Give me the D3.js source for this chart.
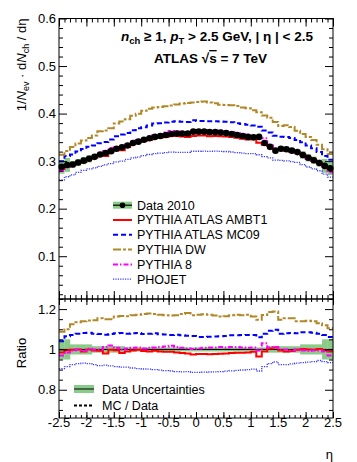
<!DOCTYPE html>
<html>
<head>
<meta charset="utf-8">
<script src="https://cdn.jsdelivr.net/npm/d3@7"></script>
<style>
	body { margin: 0; background: #fff; }
	svg text { font-family: "Liberation Sans", Arial, Helvetica, sans-serif; fill: #000; }
</style>
</head>
<body>
<svg id="chart" width="357" height="462"></svg>
<script>

// eta bin centres (bin width 0.1)
var etaBins = [-2.45,-2.35,-2.25,-2.15,-2.05,-1.95,-1.85,-1.75,-1.65,-1.55,
               -1.45,-1.35,-1.25,-1.15,-1.05,-0.95,-0.85,-0.75,-0.65,-0.55,
               -0.45,-0.35,-0.25,-0.15,-0.05, 0.05, 0.15, 0.25, 0.35, 0.45,
                0.55, 0.65, 0.75, 0.85, 0.95, 1.05, 1.15, 1.25, 1.35, 1.45,
                1.55, 1.65, 1.75, 1.85, 1.95, 2.05, 2.15, 2.25, 2.35, 2.45];

var data2010 = [0.288,0.292,0.293,0.297,0.301,0.305,0.309,0.314,0.317,0.321,
                0.326,0.329,0.333,0.338,0.341,0.345,0.348,0.351,0.353,0.355,
                0.357,0.358,0.358,0.358,0.362,0.362,0.362,0.361,0.361,0.360,
                0.359,0.357,0.355,0.353,0.351,0.350,0.351,0.338,0.330,0.322,
                0.326,0.325,0.322,0.319,0.313,0.307,0.302,0.296,0.290,0.285];

// relative data uncertainty (green band)
var dataUnc = [0.05,0.05,0.025,0.025,0.025,0.025,0.016,0.016,0.016,0.016,
               0.016,0.016,0.01,0.01,0.01,0.01,0.01,0.01,0.01,0.01,
               0.01,0.01,0.01,0.01,0.01,0.01,0.01,0.01,0.01,0.01,
               0.01,0.01,0.01,0.01,0.01,0.01,0.01,0.01,0.016,0.016,
               0.016,0.016,0.016,0.016,0.025,0.025,0.025,0.025,0.05,0.05];

// MC / Data
var ratioAMBT1 = [0.985,0.996,0.998,1.000,0.990,1.000,0.995,0.993,0.980,0.998,
                  0.996,0.982,0.990,0.995,0.998,0.992,0.990,0.993,0.990,0.988,
                  0.988,0.985,0.982,0.980,0.975,0.977,0.977,0.976,0.977,0.978,
                  0.980,0.982,0.983,0.983,0.985,0.988,0.965,0.990,1.005,1.010,
                  0.995,0.990,0.992,0.998,1.002,1.000,0.998,1.002,0.995,0.990];

var ratioMC09 = [1.040,1.065,1.072,1.078,1.082,1.083,1.078,1.076,1.073,1.076,
                 1.080,1.082,1.078,1.080,1.082,1.076,1.078,1.080,1.075,1.074,
                 1.072,1.073,1.070,1.068,1.066,1.062,1.062,1.063,1.064,1.065,
                 1.067,1.070,1.070,1.071,1.072,1.071,1.060,1.078,1.092,1.098,
                 1.078,1.080,1.082,1.080,1.085,1.085,1.083,1.078,1.072,1.062];

var ratioDW = [1.088,1.100,1.125,1.135,1.140,1.143,1.145,1.155,1.150,1.150,
               1.163,1.166,1.165,1.170,1.172,1.176,1.178,1.176,1.172,1.170,
               1.168,1.170,1.176,1.180,1.170,1.172,1.175,1.172,1.168,1.163,
               1.165,1.170,1.172,1.170,1.172,1.163,1.147,1.171,1.185,1.188,
               1.147,1.155,1.155,1.140,1.140,1.142,1.140,1.130,1.120,1.105];

var ratioPY8 = [0.970,0.985,0.995,1.000,0.993,1.003,1.000,1.000,1.012,1.020,
                1.008,0.998,1.005,1.008,1.010,1.005,1.008,1.010,1.012,1.015,
                1.018,1.012,1.008,1.005,1.002,1.005,1.008,1.010,1.010,1.012,
                1.010,1.012,1.012,1.010,1.008,1.010,0.995,1.030,1.010,1.012,
                1.000,1.000,0.995,1.000,0.995,0.992,0.995,0.995,0.990,0.970];

var ratioPHOJET = [0.905,0.915,0.925,0.930,0.932,0.930,0.925,0.920,0.922,0.918,
                   0.915,0.912,0.912,0.908,0.905,0.903,0.902,0.900,0.897,0.895,
                   0.893,0.890,0.889,0.890,0.886,0.886,0.887,0.888,0.889,0.890,
                   0.892,0.894,0.896,0.898,0.900,0.902,0.893,0.915,0.930,0.938,
                   0.925,0.925,0.928,0.932,0.935,0.937,0.940,0.945,0.940,0.935];

var xTicks      = [-2.5,-2,-1.5,-1,-0.5,0,0.5,1,1.5,2,2.5];
var yTicksTop   = [0.1,0.2,0.3,0.4,0.5,0.6];
var yTicksRatio = [0.8,1,1.2];

var binW  = 0.1;
var green = '#8acb8a';

// style per MC sample
var samples = [
	{ name: 'PYTHIA ATLAS AMBT1',  ratio: ratioAMBT1,  color: '#ff0000', dash: null,        width: 2 },
	{ name: 'PYTHIA ATLAS MC09',   ratio: ratioMC09,   color: '#0000ff', dash: '5,3',       width: 2 },
	{ name: 'PYTHIA DW',           ratio: ratioDW,     color: '#b08828', dash: '8,2,3,2',   width: 2 },
	{ name: 'PYTHIA 8',            ratio: ratioPY8,    color: '#ff00ff', dash: '5,2,1.5,2', width: 2 },
	{ name: 'PHOJET',              ratio: ratioPHOJET, color: '#3a3aff', dash: '1.2,1.2',   width: 1.3 }
];

var svg = d3.select('#chart');

var x    = d3.scaleLinear().domain([-2.5, 2.5]).range([59, 333]);
var yTop = d3.scaleLinear().domain([0.01, 0.6]).range([299, 18.5]);
var yRat = d3.scaleLinear().domain([0.66, 1.25]).range([418, 299]);

function stepPoints(vals) {
	var pts = [];
	vals.forEach(function(v, i){
		pts.push([etaBins[i] - binW / 2, v]);
		pts.push([etaBins[i] + binW / 2, v]);
	});
	return pts;
}

function drawAxes(g, y, top, bottom, yMinor, yMajor, xLen) {
	var xMinor = x.ticks(50);
	var sides = [
		{ axis: d3.axisBottom, pos: bottom },
		{ axis: d3.axisTop,    pos: top }
	];
	sides.forEach(function(s){
		g.append('g').attr('transform', 'translate(0,' + s.pos + ')')
			.call(s.axis(x).tickValues(xMinor).tickSize(-xLen[1]).tickFormat(''));
		g.append('g').attr('transform', 'translate(0,' + s.pos + ')')
			.call(s.axis(x).tickValues(xTicks).tickSize(-xLen[0]).tickFormat(''));
	});
	g.append('g').attr('transform', 'translate(59,0)')
		.call(d3.axisLeft(y).tickValues(yMinor).tickSize(-4).tickFormat(''));
	g.append('g').attr('transform', 'translate(59,0)')
		.call(d3.axisLeft(y).tickValues(yMajor).tickSize(-8).tickFormat(''));
	g.append('g').attr('transform', 'translate(333,0)')
		.call(d3.axisRight(y).tickValues(yMinor).tickSize(-4).tickFormat(''));
	g.append('g').attr('transform', 'translate(333,0)')
		.call(d3.axisRight(y).tickValues(yMajor).tickSize(-8).tickFormat(''));
	g.selectAll('.domain').remove();
	g.selectAll('.tick line').attr('stroke', '#000').attr('stroke-width', 1);

	g.append('rect')
		.attr('x', 59).attr('y', top)
		.attr('width', 274).attr('height', bottom - top)
		.attr('fill', 'none').attr('stroke', '#000').attr('stroke-width', 1);

	g.selectAll('.ylab').data(yMajor).enter().append('text')
		.attr('x', 56).attr('y', function(d){ return y(d) + 4.6; })
		.attr('text-anchor', 'end').attr('font-size', 13)
		.text(function(d){ return String(d); });
}

var line = function(y) {
	return d3.line()
		.x(function(d){ return x(d[0]); })
		.y(function(d){ return y(d[1]); });
};

/* ---------- upper panel ---------- */
var up = svg.append('g');

up.selectAll('.band').data(data2010).enter().append('rect')
	.attr('x', function(d, i){ return x(etaBins[i] - binW / 2); })
	.attr('width', x(binW) - x(0))
	.attr('y', function(d, i){ return yTop(d * (1 + dataUnc[i])); })
	.attr('height', function(d, i){ return yTop(d * (1 - dataUnc[i])) - yTop(d * (1 + dataUnc[i])); })
	.attr('fill', green);

samples.forEach(function(s){
	var mc = data2010.map(function(d, i){ return d * s.ratio[i]; });
	up.append('path')
		.datum(stepPoints(mc))
		.attr('d', line(yTop))
		.attr('fill', 'none')
		.attr('stroke', s.color)
		.attr('stroke-width', s.width)
		.attr('stroke-dasharray', s.dash);
});

up.selectAll('.pt').data(data2010).enter().append('circle')
	.attr('cx', function(d, i){ return x(etaBins[i]); })
	.attr('cy', function(d){ return yTop(d); })
	.attr('r', 3.3)
	.attr('fill', '#000');

drawAxes(up, yTop, 18.5, 299,
	d3.range(0.02, 0.601, 0.02).filter(function(v){ return Math.abs(v * 10 - Math.round(v * 10)) > 0.01; }),
	yTicksTop, [8, 4]);

// labels
var t1 = up.append('text').attr('x', 121).attr('y', 41)
	.attr('font-size', 13.5).attr('font-weight', 'bold');
t1.append('tspan').attr('font-style', 'italic').text('n');
t1.append('tspan').attr('font-size', 9.5).attr('dy', 3).text('ch');
t1.append('tspan').attr('dy', -3).text(' \u2265 1, ');
t1.append('tspan').attr('font-style', 'italic').text('p');
t1.append('tspan').attr('font-size', 9.5).attr('dy', 3).text('T');
t1.append('tspan').attr('dy', -3).text(' > 2.5 GeV, | \u03b7 | < 2.5');

var t2 = up.append('text').attr('x', 154).attr('y', 63)
	.attr('font-size', 13.5).attr('font-weight', 'bold');
t2.append('tspan').text('ATLAS \u221a');
t2.append('tspan').attr('text-decoration', 'overline').text('s');
t2.append('tspan').text(' = 7 TeV');

var yt = up.append('text')
	.attr('transform', 'translate(25.5,18.5) rotate(-90)')
	.attr('text-anchor', 'end').attr('font-size', 13);
yt.append('tspan').text('1/');
yt.append('tspan').attr('font-style', 'italic').text('N');
yt.append('tspan').attr('font-size', 9).attr('dy', 3).text('ev');
yt.append('tspan').attr('dy', -3).text(' \u00b7 d');
yt.append('tspan').attr('font-style', 'italic').text('N');
yt.append('tspan').attr('font-size', 9).attr('dy', 3).text('ch');
yt.append('tspan').attr('dy', -3).text(' / d\u03b7');

// legend
var leg = up.append('g');
var rowY = function(i){ return 209.5 + i * 14.8; };

leg.append('rect').attr('x', 113).attr('y', rowY(0) - 7.8)
	.attr('width', 19).attr('height', 7).attr('fill', green);
leg.append('line').attr('x1', 113).attr('x2', 132)
	.attr('y1', rowY(0) - 4.3).attr('y2', rowY(0) - 4.3)
	.attr('stroke', '#000').attr('stroke-width', 1.2);
leg.append('circle').attr('cx', 122.5).attr('cy', rowY(0) - 4.3).attr('r', 2.8).attr('fill', '#000');
leg.append('text').attr('x', 137).attr('y', rowY(0)).attr('font-size', 12.5).text('Data 2010');

samples.forEach(function(s, i){
	leg.append('line')
		.attr('x1', 113).attr('x2', 132)
		.attr('y1', rowY(i + 1) - 4.3).attr('y2', rowY(i + 1) - 4.3)
		.attr('stroke', s.color)
		.attr('stroke-width', s.width)
		.attr('stroke-dasharray', s.dash);
	leg.append('text').attr('x', 137).attr('y', rowY(i + 1))
		.attr('font-size', 12.5).text(s.name);
});

/* ---------- ratio panel ---------- */
var lo = svg.append('g');

lo.selectAll('.band').data(dataUnc).enter().append('rect')
	.attr('x', function(d, i){ return x(etaBins[i] - binW / 2); })
	.attr('width', x(binW) - x(0) + 0.3)
	.attr('y', function(d){ return yRat(1 + d); })
	.attr('height', function(d){ return yRat(1 - d) - yRat(1 + d); })
	.attr('fill', green);

lo.append('line')
	.attr('x1', x(-2.5)).attr('x2', x(2.5))
	.attr('y1', yRat(1)).attr('y2', yRat(1))
	.attr('stroke', '#000').attr('stroke-width', 1);

samples.forEach(function(s){
	lo.append('path')
		.datum(stepPoints(s.ratio))
		.attr('d', line(yRat))
		.attr('fill', 'none')
		.attr('stroke', s.color)
		.attr('stroke-width', s.width)
		.attr('stroke-dasharray', s.dash);
});

drawAxes(lo, yRat, 299, 418,
	[0.7, 0.75, 0.85, 0.9, 0.95, 1.05, 1.1, 1.15, 1.25],
	yTicksRatio, [6, 3]);

lo.selectAll('.xlab').data(xTicks).enter().append('text')
	.attr('x', function(d){ return x(d); }).attr('y', 427)
	.attr('text-anchor', 'middle').attr('font-size', 13)
	.text(function(d){ return String(d); });

lo.append('text').attr('x', 333).attr('y', 459)
	.attr('text-anchor', 'end').attr('font-size', 13).text('\u03b7');

lo.append('text')
	.attr('transform', 'translate(25.5,353) rotate(-90)')
	.attr('text-anchor', 'middle').attr('font-size', 13).text('Ratio');

// ratio legend
lo.append('rect').attr('x', 74).attr('y', 385).attr('width', 20).attr('height', 8).attr('fill', green);
lo.append('line').attr('x1', 74).attr('x2', 94).attr('y1', 389).attr('y2', 389)
	.attr('stroke', '#000').attr('stroke-width', 1);
lo.append('text').attr('x', 102).attr('y', 394).attr('font-size', 12.5).text('Data Uncertainties');

lo.append('line').attr('x1', 74).attr('x2', 94).attr('y1', 405.5).attr('y2', 405.5)
	.attr('stroke', '#000').attr('stroke-width', 2).attr('stroke-dasharray', '3,2');
lo.append('text').attr('x', 102).attr('y', 410).attr('font-size', 12.5).text('MC / Data');

</script>
</body>
</html>
